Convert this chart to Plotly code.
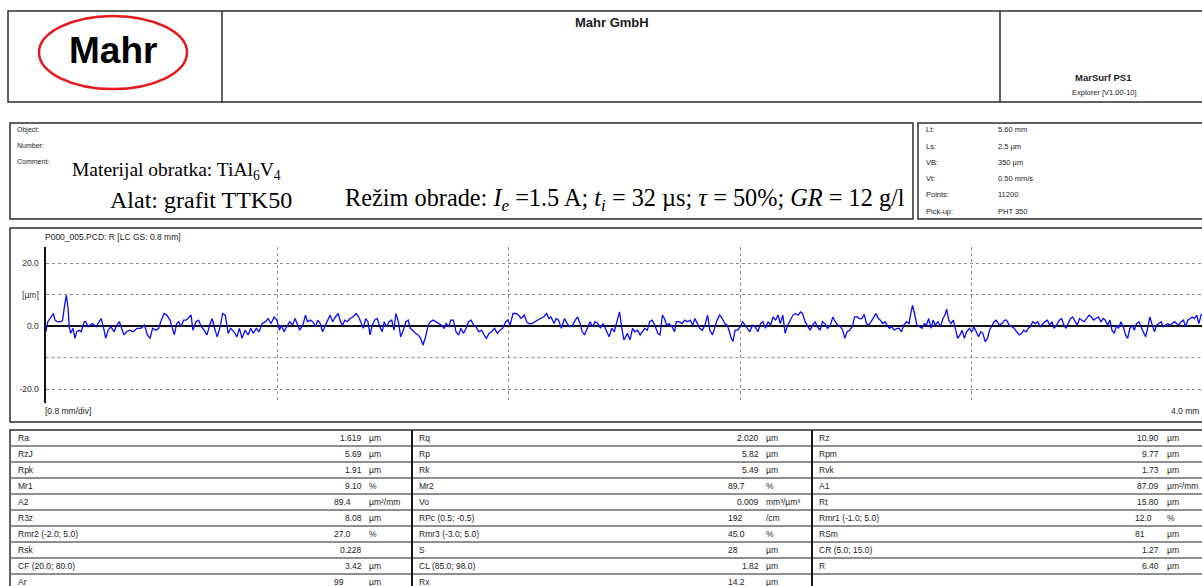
import plotly.graph_objects as go

W, H = 1202, 586

# Roughness profile R (LC GS 0.8 mm): position along trace [mm] and height [µm]
profile_x_mm = [
    0.000, 0.001, 0.008, 0.021, 0.027, 0.033, 0.040, 0.053, 0.059, 0.066, 0.072, 0.078, 0.082, 0.087, 0.095,
    0.102, 0.108, 0.117, 0.123, 0.134, 0.139, 0.147, 0.156, 0.162, 0.175, 0.185, 0.192, 0.201, 0.208, 0.216,
    0.226, 0.237, 0.246, 0.255, 0.262, 0.271, 0.280, 0.291, 0.303, 0.316, 0.329, 0.342, 0.352, 0.361, 0.370,
    0.381, 0.391, 0.400, 0.410, 0.419, 0.430, 0.439, 0.445, 0.453, 0.460, 0.468, 0.477, 0.486, 0.496, 0.503,
    0.509, 0.520, 0.529, 0.538, 0.548, 0.558, 0.567, 0.576, 0.584, 0.593, 0.602, 0.612, 0.621, 0.631, 0.640,
    0.651, 0.661, 0.670, 0.679, 0.689, 0.700, 0.709, 0.718, 0.728, 0.738, 0.748, 0.760, 0.769, 0.779, 0.790,
    0.799, 0.808, 0.815, 0.824, 0.833, 0.844, 0.853, 0.862, 0.869, 0.878, 0.889, 0.898, 0.905, 0.914, 0.923,
    0.934, 0.940, 0.949, 0.957, 0.966, 0.975, 0.983, 0.992, 1.001, 1.011, 1.019, 1.026, 1.034, 1.043, 1.052,
    1.062, 1.073, 1.082, 1.091, 1.098, 1.106, 1.114, 1.121, 1.129, 1.137, 1.146, 1.155, 1.163, 1.170, 1.178,
    1.187, 1.196, 1.204, 1.210, 1.219, 1.227, 1.236, 1.245, 1.253, 1.260, 1.268, 1.278, 1.287, 1.296, 1.304,
    1.313, 1.322, 1.330, 1.339, 1.348, 1.358, 1.368, 1.377, 1.384, 1.393, 1.400, 1.409, 1.418, 1.427, 1.435,
    1.444, 1.453, 1.461, 1.470, 1.479, 1.487, 1.497, 1.506, 1.515, 1.523, 1.532, 1.541, 1.551, 1.561, 1.570,
    1.579, 1.590, 1.597, 1.605, 1.615, 1.626, 1.634, 1.643, 1.654, 1.662, 1.669, 1.680, 1.690, 1.700, 1.710,
    1.721, 1.731, 1.739, 1.746, 1.757, 1.764, 1.772, 1.782, 1.793, 1.802, 1.811, 1.821, 1.830, 1.838, 1.847,
    1.854, 1.862, 1.872, 1.881, 1.890, 1.898, 1.908, 1.917, 1.926, 1.937, 1.947, 1.956, 1.965, 1.975, 1.983,
    1.991, 1.998, 2.002, 2.010, 2.019, 2.028, 2.036, 2.045, 2.054, 2.061, 2.070, 2.079, 2.087, 2.096, 2.105,
    2.115, 2.123, 2.131, 2.138, 2.146, 2.154, 2.164, 2.173, 2.179, 2.188, 2.199, 2.208, 2.218, 2.227, 2.236,
    2.243, 2.252, 2.260, 2.269, 2.278, 2.287, 2.295, 2.304, 2.313, 2.320, 2.329, 2.338, 2.346, 2.355, 2.361,
    2.369, 2.375, 2.382, 2.391, 2.400, 2.408, 2.416, 2.425, 2.433, 2.442, 2.451, 2.461, 2.470, 2.478, 2.487,
    2.496, 2.505, 2.513, 2.522, 2.531, 2.538, 2.547, 2.555, 2.564, 2.573, 2.582, 2.590, 2.600, 2.608, 2.615,
    2.624, 2.632, 2.641, 2.650, 2.659, 2.666, 2.675, 2.684, 2.692, 2.702, 2.711, 2.720, 2.728, 2.737, 2.746,
    2.754, 2.761, 2.769, 2.778, 2.787, 2.795, 2.804, 2.811, 2.820, 2.828, 2.836, 2.843, 2.852, 2.861, 2.869,
    2.877, 2.884, 2.892, 2.900, 2.907, 2.915, 2.923, 2.932, 2.941, 2.949, 2.957, 2.965, 2.974, 2.983, 2.989,
    2.995, 3.002, 3.010, 3.019, 3.028, 3.036, 3.043, 3.051, 3.059, 3.066, 3.074, 3.083, 3.092, 3.100, 3.107,
    3.113, 3.120, 3.128, 3.136, 3.143, 3.151, 3.159, 3.166, 3.174, 3.182, 3.192, 3.200, 3.207, 3.215, 3.223,
    3.231, 3.238, 3.246, 3.254, 3.261, 3.269, 3.277, 3.284, 3.295, 3.304, 3.313, 3.320, 3.329, 3.338, 3.346,
    3.355, 3.364, 3.372, 3.379, 3.387, 3.395, 3.402, 3.410, 3.419, 3.428, 3.436, 3.445, 3.452, 3.461, 3.469,
    3.477, 3.484, 3.493, 3.502, 3.510, 3.518, 3.525, 3.533, 3.541, 3.548, 3.556, 3.564, 3.572, 3.579, 3.587,
    3.596, 3.605, 3.613, 3.620, 3.628, 3.637, 3.646, 3.654, 3.661, 3.669, 3.677, 3.684, 3.692, 3.700, 3.707,
    3.715, 3.723, 3.731, 3.738, 3.746, 3.754, 3.761, 3.769, 3.777, 3.784, 3.792, 3.800, 3.807, 3.815, 3.823,
    3.831, 3.838, 3.846, 3.854, 3.861, 3.869, 3.877, 3.884, 3.892, 3.900, 3.907, 3.915, 3.923, 3.931, 3.938,
    3.946, 3.954, 3.961, 3.969, 3.977, 3.984, 3.992, 3.997,
]
profile_z_um = [
    -1.3, -1.8, 1.4, 3.5, 4.0, 1.9, 1.4, 1.4, 1.9, 6.6, 9.8, 5.6, -0.2, -2.3, -0.7,
    -3.9, -1.8, -1.3, -1.8, 1.4, 1.4, -0.2, 0.3, 0.8, -0.2, 1.4, 2.4, -0.7, -3.9, -1.3,
    -0.2, -1.8, 0.3, 1.4, -0.2, -2.8, -1.8, -1.3, -1.8, -0.7, -0.7, 0.3, -2.8, -3.9, -0.7,
    -1.3, -0.7, 1.9, 4.0, 3.5, 1.9, -1.3, -2.8, 0.8, 1.4, -0.2, 1.9, 1.9, 2.9, 3.5,
    -1.3, 1.4, 1.9, -0.2, -1.3, -2.8, 0.3, 2.4, -0.7, -3.4, -0.7, 4.0, 3.5, -2.3, -0.7,
    -1.8, -3.4, -0.7, -3.9, -1.3, -2.8, -0.7, -2.3, -0.7, -1.8, 0.8, 1.4, 2.4, 0.8, 2.9,
    1.9, -1.3, 0.3, -1.8, -0.2, 1.4, 0.3, 2.4, 0.8, -1.3, 0.3, 3.5, 1.4, 1.9, 1.4,
    -0.2, 1.9, 0.8, -1.8, -0.2, 1.9, 3.5, 1.4, 2.9, 4.0, 1.4, 0.3, 1.9, 1.4, 2.4,
    2.9, 4.0, 2.9, 0.8, -0.7, 2.4, 1.4, -2.8, 0.3, 1.9, 2.4, -0.2, -1.8, 1.4, -0.2,
    1.4, 1.9, -1.3, 4.0, 1.4, -3.4, -1.3, 1.4, 1.9, -0.7, -1.3, -2.3, -2.8, -3.9, -6.0,
    -3.4, 0.3, 1.4, 1.9, 1.4, 0.8, 0.3, -0.7, 0.8, -0.2, 1.9, 1.9, -1.8, -2.8, -0.7,
    -2.3, -0.7, 1.4, 1.9, 0.3, -0.2, -1.8, -1.3, -2.8, -3.9, -2.3, -1.8, -0.7, -2.3, -1.3,
    -0.7, 1.4, 1.9, 0.3, 4.0, 4.0, 3.5, 2.4, 3.5, 1.4, 0.8, 0.8, 1.4, 1.9, 2.4,
    2.9, 4.0, 2.4, 2.9, 0.8, 2.4, 1.9, -0.7, 2.4, 0.8, -0.2, 0.3, 1.9, 2.9, 0.8,
    -1.8, -2.8, -0.7, 1.4, -0.2, 1.4, 0.8, -0.7, 0.8, -1.3, -3.4, -0.7, -1.8, 1.9, 4.5,
    -0.7, -4.4, -3.9, -2.3, -4.4, -0.7, -1.8, -1.3, -2.8, -1.8, -0.7, -1.3, 1.4, 1.9, 0.3,
    -2.3, -2.8, 3.5, 2.4, 0.3, 0.8, -0.2, -1.8, 1.4, 1.4, 0.8, 1.9, 1.4, 1.9, 0.3,
    2.4, 0.8, -0.7, -1.3, 0.3, 3.5, -1.3, -2.8, 0.3, 1.9, 3.5, 2.4, 0.8, 0.3, -1.3,
    -3.9, -4.9, -1.3, -1.3, -0.2, 1.4, 0.3, -0.7, -1.8, 0.3, -0.2, -1.8, 0.8, 1.4, -0.7,
    1.4, 0.3, 2.9, 1.9, 3.5, 0.8, 3.5, -2.3, 0.3, 1.9, 3.5, 4.0, 3.5, 4.5, 4.0,
    1.4, 0.3, -1.3, 0.3, 1.4, -0.2, -1.3, 1.4, 0.8, -0.7, 0.3, 2.9, 1.4, 0.3, -0.2,
    -1.3, -3.9, -1.8, -1.3, -0.2, 2.9, 2.9, 2.4, 2.4, 3.7, 0.8, 0.3, 1.4, 2.9, 4.0,
    2.4, 1.9, 0.8, 1.4, 0.3, -0.7, -0.2, -1.3, -0.7, -0.7, -1.8, 0.3, 1.4, 0.8, 4.0,
    6.6, 4.0, 0.3, -0.2, -0.7, 0.8, 0.3, 2.4, -0.7, 1.9, 0.3, 1.4, -0.2, 2.4, 3.5,
    5.4, 1.9, 0.8, 1.9, -0.7, -3.9, -2.8, -1.3, -3.9, -1.8, -0.7, -1.8, -0.2, -1.8, -3.4,
    -1.8, -2.3, -4.9, -3.9, -1.3, 0.3, 1.4, 1.9, 0.3, 0.8, 1.9, 1.9, 0.3, -0.2, -0.7,
    -1.8, -2.8, -2.3, -1.3, -1.8, -0.7, -0.2, 1.4, 0.8, 1.4, -0.2, 0.8, 1.4, 1.9, 0.3,
    1.4, -0.7, 0.3, 1.9, 2.4, 0.3, -0.7, 0.8, 2.4, 2.9, 1.4, 0.3, 2.4, 1.9, 1.4,
    2.4, 3.5, 2.9, 1.9, 2.4, 2.9, 1.4, 2.4, 1.9, 0.3, 1.9, -1.3, -2.3, 0.3, -0.7,
    1.4, -0.2, -2.8, -3.9, -0.7, 0.3, -1.3, 0.8, 1.4, -0.2, -1.8, -3.4, -0.7, 2.9, 0.3,
    -1.8, 0.3, 0.8, 1.4, -0.2, 0.3, 0.8, 0.3, 0.8, 1.4, 0.8, 0.3, 1.4, 1.9, -0.2,
    1.9, 2.4, 2.9, 2.4, 3.5, 0.8, 3.5, 3.7,
]

# Axis grid and tick labels of the profile plot
x_grid_mm = [0.8, 1.6, 2.4, 3.2]
y_tick_vals = [20, 10, 0, -20]
y_tick_text = ["20.0", "[µm]", "0.0", "-20.0"]
y_extra_grid = [-10]

# Measurement conditions
cond_names = ["Lt:", "Ls:", "VB:", "Vt:", "Points:", "Pick-up:"]
cond_values = ["5.60 mm", "2.5 µm", "350 µm", "0.50 mm/s", "11200", "PHT 350"]

# Roughness parameters, three table columns
col1_names = ["Ra", "RzJ", "Rpk", "Mr1", "A2", "R3z", "Rmr2 (-2.0; 5.0)", "Rsk", "CF (20.0; 80.0)", "Ar"]
col1_values = ["1.619", "5.69", "1.91", "9.10", "89.4", "8.08", "27.0", "0.228", "3.42", "99"]
col1_units = ["µm", "µm", "µm", "%", "µm²/mm", "µm", "%", "", "µm", "µm"]

col2_names = ["Rq", "Rp", "Rk", "Mr2", "Vo", "RPc (0.5; -0.5)", "Rmr3 (-3.0; 5.0)", "S", "CL (85.0; 98.0)", "Rx"]
col2_values = ["2.020", "5.82", "5.49", "89.7", "0.009", "192", "45.0", "28", "1.82", "14.2"]
col2_units = ["µm", "µm", "µm", "%", "mm³/µm³", "/cm", "%", "µm", "µm", "µm"]

col3_names = ["Rz", "Rpm", "Rvk", "A1", "Rt", "Rmr1 (-1.0; 5.0)", "RSm", "CR (5.0; 15.0)", "R", ""]
col3_values = ["10.90", "9.77", "1.73", "87.09", "15.80", "12.0", "81", "1.27", "6.40", ""]
col3_units = ["µm", "µm", "µm", "µm²/mm", "µm", "%", "µm", "µm", "µm", ""]


def px(x):
    return x / W


def py(y):
    return 1 - y / H


SANS = "Liberation Sans, Arial, sans-serif"
SERIF = "Liberation Serif, Times New Roman, serif"
INK = "#1c1c1c"
BORDER = "#2e2e2e"
GRID = "#8c8c8c"

shapes = []
annotations = []


def rect(x0, y0, x1, y1, color=BORDER, width=1.5):
    shapes.append(dict(type="rect", xref="paper", yref="paper",
                       x0=px(x0), x1=px(x1), y0=py(y1), y1=py(y0),
                       line=dict(color=color, width=width), fillcolor="rgba(0,0,0,0)"))


def seg(x0, y0, x1, y1, color=BORDER, width=1.5):
    shapes.append(dict(type="line", xref="paper", yref="paper",
                       x0=px(x0), x1=px(x1), y0=py(y0), y1=py(y1),
                       line=dict(color=color, width=width)))


def text(x, y, s, size=8.5, anchor="left", family=SANS, color=INK):
    annotations.append(dict(x=px(x), y=py(y), xref="paper", yref="paper", text=s,
                            showarrow=False, xanchor=anchor, yanchor="middle",
                            borderpad=0, font=dict(size=size, family=family, color=color)))


# ---- header block ----
rect(8, 11, 1230, 102)
seg(222, 11, 222, 102)
seg(1000, 11, 1000, 102)
shapes.append(dict(type="circle", xref="paper", yref="paper",
                   x0=px(39), x1=px(187), y0=py(89), y1=py(16),
                   line=dict(color="#e3191c", width=2.5)))
text(113, 51, "<b>Mahr</b>", size=37, anchor="center", color="#000000")
text(612, 22, "<b>Mahr GmbH</b>", size=13, anchor="center")
text(1103, 77, "<b>MarSurf PS1</b>", size=9.5, anchor="center")
text(1104, 92, "Explorer [V1.00-10]", size=7.5, anchor="center")

# ---- object / comment block ----
rect(10, 123, 913, 219)
text(16, 130, "Object:", size=7)
text(16, 146, "Number:", size=7)
text(16, 161, "Comment:", size=7)
text(71, 171, "Materijal obratka: TiAl<sub>6</sub>V<sub>4</sub>", size=19.5, family=SERIF, color="#000000")
text(109, 200, "Alat: grafit TTK50", size=24, family=SERIF, color="#000000")
text(906, 200, "Režim obrade: <i>I</i><sub><i>e</i></sub> =1.5 A; <i>t</i><sub><i>i</i></sub> = 32 µs; "
               "<i>τ</i> = 50%; <i>GR</i> = 12 g/l", size=24.3, family=SERIF, color="#000000",
     anchor="right")

# ---- measurement conditions ----
rect(918, 123, 1230, 219)
for i, (n, v) in enumerate(zip(cond_names, cond_values)):
    yy = 130 + i * 16.2
    text(925, yy, n, size=7.5)
    text(997, yy, v, size=7.5)

# ---- profile block ----
rect(10, 228, 1230, 422)
text(44, 237, "P000_005.PCD: R [LC GS: 0.8 mm]", size=8.5)
text(44, 411, "[0.8 mm/div]", size=8.5)
text(1200, 411, "4.0 mm", size=8.5, anchor="right")
for v in y_extra_grid:
    shapes.append(dict(type="line", xref="paper", yref="y", x0=px(45.5), x1=1.0, y0=v, y1=v,
                       line=dict(color=GRID, width=1, dash="3px,3px"), layer="below"))

# ---- parameter table ----
TOP, ROW = 430, 16.0
rect(10, TOP, 1230, 620)
for k in range(1, 10):
    seg(10, TOP + k * ROW, 1230, TOP + k * ROW, color="#6a6a6a", width=1.6)
seg(412, TOP, 412, 590, color="#1a1a1a", width=2)
seg(812, TOP, 812, 590, color="#1a1a1a", width=2)

# value anchoring: most right-aligned, a few start at a fixed left position
left_aligned = {
    1: {4, 6, 9},
    2: {3, 5, 6, 7, 9},
    3: {5, 6},
}
columns = [
    (1, col1_names, col1_values, col1_units, 17, 333, 363, 368),
    (2, col2_names, col2_values, col2_units, 418, 727, 760, 765),
    (3, col3_names, col3_values, col3_units, 818, 1134, 1160, 1166),
]
for cid, names, values, units, xl, xv_left, xv_right, xu in columns:
    for i, (n, v, u) in enumerate(zip(names, values, units)):
        yy = TOP + (i + 0.5) * ROW
        if n:
            text(xl, yy, n, size=8.5)
        if v:
            if i in left_aligned[cid]:
                text(xv_left, yy, v, size=8.5)
            else:
                text(xv_right, yy, v, size=8.5, anchor="right")
        if u:
            text(xu, yy, u, size=8.5)

fig = go.Figure()
fig.add_trace(go.Scatter(x=profile_x_mm, y=profile_z_um, mode="lines",
                         line=dict(color="#0a0aff", width=1.3),
                         hoverinfo="skip", showlegend=False))

grid = dict(showgrid=True, gridcolor=GRID, gridwidth=1, griddash="3px,3px")
fig.update_layout(
    width=W, height=H, autosize=False,
    margin=dict(l=0, r=0, t=0, b=0),
    paper_bgcolor="white", plot_bgcolor="white",
    showlegend=False,
    shapes=shapes, annotations=annotations,
    xaxis=dict(domain=[px(45.5), 1.0], range=[0, 3.995], tickvals=x_grid_mm,
               showticklabels=False, ticks="", zeroline=False, showline=False,
               fixedrange=True, **grid),
    yaxis=dict(domain=[py(403), py(247)], range=[-24.4, 25.1],
               tickvals=y_tick_vals, ticktext=y_tick_text, ticks="",
               tickfont=dict(size=8.5, family=SANS, color="#333333"),
               ticklabelstandoff=3,
               zeroline=True, zerolinecolor="#111111", zerolinewidth=2,
               showline=True, linecolor="#111111", linewidth=2,
               fixedrange=True, **grid),
)

fig.write_html("out.html")
